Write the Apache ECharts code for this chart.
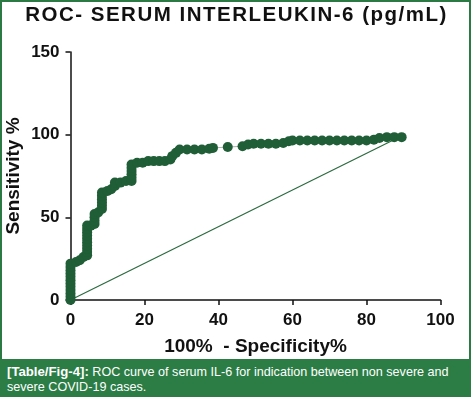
<!DOCTYPE html>
<html><head><meta charset="utf-8">
<script src="https://cdn.jsdelivr.net/npm/echarts@6/dist/echarts.min.js"></script>
<style>
html,body{margin:0;padding:0;background:#fff;}
#wrap{position:relative;width:473px;height:399px;overflow:hidden;font-family:"Liberation Sans",Arial,sans-serif;}
#frame{position:absolute;left:0;top:0;width:467px;height:359px;border:2px solid #2b7a44;border-bottom:none;box-sizing:content-box;}
#chart{position:absolute;left:0;top:0;width:473px;height:399px;}
#ttl{position:absolute;left:0;top:2px;width:473px;text-align:center;font-size:20.5px;font-weight:bold;letter-spacing:1.5px;color:#111;line-height:24px;white-space:nowrap;}
#cap{position:absolute;left:0;top:359px;width:464px;height:33px;background:#2b7d45;color:#fff;font-size:12.6px;line-height:15px;padding:5px 0 0 7px;white-space:nowrap;}
#cap b{font-weight:bold;font-size:13.2px;}
</style></head>
<body><div id="wrap">
<div id="frame"></div>
<div id="chart"></div>
<div id="ttl">ROC- SERUM INTERLEUKIN-6 (pg/mL)</div>
<div id="cap"><b>[Table/Fig-4]:</b> ROC curve of serum IL-6 for indication between non severe and<br>severe COVID-19 cases.</div>
</div>
<script>
// 100% - Specificity% (x) and Sensitivity% (y) for each ROC point
var specComp = [0,0,0,0,0,0,0,0,0,0,0,0,
  1.5,2.5,3.5,4.5,
  4.5,4.5,4.5,4.5,4.5,4.5,4.5,4.5,4.5,
  5.5,6.5,6.5,6.5,6.5,7.5,
  8.5,8.5,8.5,8.5,8.5,8.5,10,11,12,12,
  13.5,15,16.5,16.5,16.5,16.5,16.5,16.5,
  18,19.5,21,22.5,24,25.5,27,27.5,28.5,29.5,31.5,33.5,35.5,37.5,38.5,
  42.5,46.5,48,49.5,51.5,53.5,55.5,57.5,59,
  60,62,64,66,68,70,72,74,76,78,80,82,83.5,85.5,87.5,89.5];
var sensitivity = [0,2,4,6,8,10,12,14,16,18,20,22,
  23,24,26,27,
  29,31,33,35,37,39,41,43,45,
  45,46,48,50,52,53,
  55,57,59,61,63,65,66,67,69,71,
  71,72,72,74,76,78,80,82,
  83,83,84,84,84,84,85,87,89,91,91,91,91,91.5,92,
  92.5,93,94,94.5,94.5,94.5,94.5,95,96,
  96.5,96.5,96.5,96.5,96.5,96.5,96.5,96.5,96.5,96.5,96.5,97,98,98.5,98.5,98.5];
var refLineX = [0, 87];
var refLineY = [0, 96.5];
var xTicks = [0,20,40,60,80,100];
var yTicks = [0,50,100,150];

var rocData = specComp.map(function(v,i){return [v, sensitivity[i]];});
var refData = refLineX.map(function(v,i){return [v, refLineY[i]];});
var F = '"Liberation Sans", Arial, sans-serif';
var chart = echarts.init(document.getElementById('chart'), null, {renderer:'canvas'});
chart.setOption({
  animation:false,
  backgroundColor:'transparent',
  grid:{left:70.5,right:32.5,top:52,bottom:99,containLabel:false,outerBoundsMode:'none'},
  xAxis:{type:'value',min:xTicks[0],max:xTicks[xTicks.length-1],interval:20,
    name:'100%  - Specificity%',nameLocation:'middle',nameGap:37,nameMoveOverlap:false,
    nameTextStyle:{fontFamily:F,fontWeight:'bold',fontSize:19,color:'#111'},
    axisLine:{lineStyle:{color:'#111',width:1.5}},
    axisTick:{length:5,lineStyle:{color:'#111',width:1.5}},
    axisLabel:{fontFamily:F,fontWeight:'bold',fontSize:17,color:'#111',margin:12,
      alignMinLabel:'center',alignMaxLabel:'center'},
    splitLine:{show:false}},
  yAxis:{type:'value',min:yTicks[0],max:yTicks[yTicks.length-1],interval:50,
    name:'Sensitivity %',nameLocation:'middle',nameGap:47,nameMoveOverlap:false,
    nameTextStyle:{fontFamily:F,fontWeight:'bold',fontSize:19,color:'#111'},
    axisLine:{show:true,lineStyle:{color:'#111',width:1.5}},
    axisTick:{show:true,length:5,lineStyle:{color:'#111',width:1.5}},
    axisLabel:{fontFamily:F,fontWeight:'bold',fontSize:17,color:'#111',margin:11},
    splitLine:{show:false}},
  series:[
    {type:'line',data:refData,symbol:'none',lineStyle:{color:'#2a6a3e',width:1.2},z:2},
    {type:'line',data:rocData,symbol:'circle',symbolSize:10,
      itemStyle:{color:'#1f5e36'},lineStyle:{color:'#a8b4ac',width:1},z:3}
  ]
});
</script>
</body></html>
